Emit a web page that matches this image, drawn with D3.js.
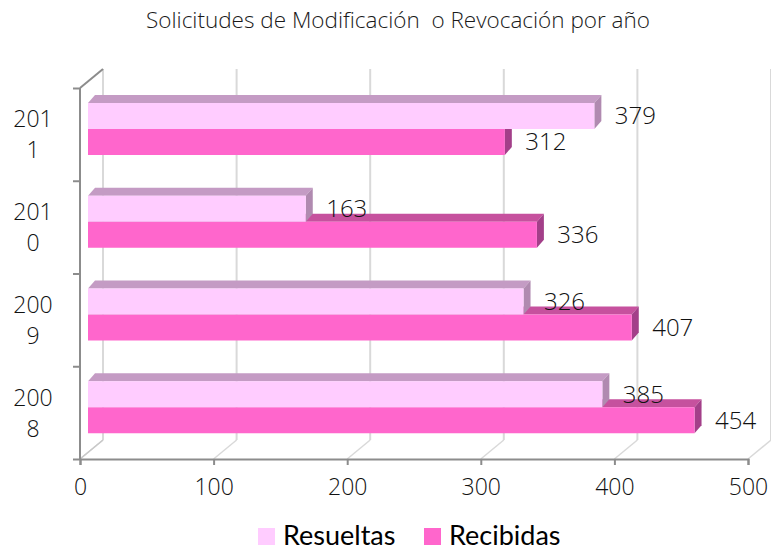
<!DOCTYPE html>
<html><head><meta charset="utf-8">
<script src="https://cdn.jsdelivr.net/npm/d3@7/dist/d3.min.js"></script>
<style>body{margin:0;background:#fff}svg{display:block}text{white-space:pre}</style>
</head><body>
<svg id="c" width="771" height="550"></svg>
<script>
const title = "Solicitudes de Modificación  o Revocación por año";
const years = ["2011", "2010", "2009", "2008"];
const seriesNames = ["Resueltas", "Recibidas"];
const resueltas = [379, 163, 326, 385];
const recibidas = [312, 336, 407, 454];
const xTicks = [0, 100, 200, 300, 400, 500];
const colors = {Resueltas: {front: "#FFCCFF", top: "#C49BC4", side: "#B08AB0"},
                Recibidas: {front: "#FF66CC", top: "#C6519E", side: "#A33F89"}};

const svg = d3.select("#c");
const wallDX = 23, wallDY = -19;
const barDX = 7, barDY = -8, barShift = 8;
const FONT = "Open Sans";
const x = d3.scaleLinear().domain([0, 500]).range([80, 748]);
const y = d3.scaleBand().domain(years).range([88, 459]);
const ys = d3.scaleBand().domain(seriesNames).range([15, 67]);
const floorY = y.range()[1], topY = y.range()[0];

// title
svg.append("text").attr("x", 398).attr("y", 28).attr("text-anchor", "middle")
  .attr("font-family", FONT).attr("font-weight", 300).attr("font-size", 22.5).attr("fill", "#1a1a1a").text(title);

const grid = svg.append("g");
xTicks.forEach(t => {
  const xf = x(t);
  grid.append("line").attr("x1", xf + wallDX).attr("x2", xf + wallDX)
    .attr("y1", topY + wallDY).attr("y2", floorY + wallDY)
    .attr("stroke", "#D9D9D9").attr("stroke-width", 2);
  grid.append("line").attr("x1", xf).attr("y1", floorY)
    .attr("x2", xf + wallDX).attr("y2", floorY + wallDY)
    .attr("stroke", "#D9D9D9").attr("stroke-width", 1.5);
});
grid.append("line").attr("x1", x(0)).attr("y1", topY).attr("x2", x(0) + wallDX).attr("y2", topY + wallDY)
  .attr("stroke", "#8C8C8C").attr("stroke-width", 2);
grid.append("line").attr("x1", x(0)).attr("y1", floorY).attr("x2", x(0) + wallDX).attr("y2", floorY + wallDY)
  .attr("stroke", "#C8C8C8").attr("stroke-width", 1.5);

// bars
const rows = years.map((yr, i) => ({year: yr, Resueltas: resueltas[i], Recibidas: recibidas[i]}));
const barsG = svg.append("g");
rows.forEach(r => {
  ["Recibidas", "Resueltas"].forEach(s => {
    const v = r[s];
    const x0 = x(0) + barShift, x1 = x(v) + barShift;
    const y0 = y(r.year) + ys(s), y1 = y0 + ys.bandwidth();
    const c = colors[s];
    barsG.append("polygon")
      .attr("points", [[x0, y0], [x0 + barDX, y0 + barDY], [x1 + barDX, y0 + barDY], [x1, y0]].join(" "))
      .attr("fill", c.top);
    barsG.append("polygon")
      .attr("points", [[x1, y0], [x1 + barDX, y0 + barDY], [x1 + barDX, y1 + barDY], [x1, y1]].join(" "))
      .attr("fill", c.side);
    barsG.append("rect").attr("x", x0).attr("y", y0).attr("width", x1 - x0).attr("height", y1 - y0)
      .attr("fill", c.front);
  });
});
// labels
rows.forEach(r => {
  seriesNames.forEach(s => {
    const v = r[s];
    const yc = y(r.year) + ys(s) + ys.bandwidth() / 2;
    svg.append("text").attr("x", x(v) + barShift + 41).attr("y", yc).attr("dy", "0.35em")
      .attr("text-anchor", "middle").attr("font-family", FONT).attr("font-weight", 300).attr("font-size", 24)
      .attr("fill", "#111").text(v);
  });
});

// axes
const xAxis = d3.axisBottom(x).tickValues(xTicks).tickSize(6).tickPadding(14);
const gx = svg.append("g").attr("transform", `translate(0,${floorY})`).call(xAxis);
gx.select(".domain").attr("stroke", "#8C8C8C").attr("stroke-width", 2);
gx.selectAll(".tick line").attr("stroke", "#8C8C8C").attr("stroke-width", 2);
gx.selectAll(".tick text").attr("font-family", FONT).attr("font-weight", 300).attr("font-size", 23).attr("fill", "#111");

const yEdge = d3.scaleLinear().domain([0, years.length]).range([topY, floorY]);
const yAxis = d3.axisLeft(yEdge).ticks(years.length).tickFormat("").tickSize(7);
const gy = svg.append("g").attr("transform", `translate(${x(0)},0)`).call(yAxis);
gy.select(".domain").attr("stroke", "#8C8C8C").attr("stroke-width", 2).attr("d", `M0,${topY}V${floorY}`);
gy.selectAll(".tick line").attr("stroke", "#8C8C8C").attr("stroke-width", 2);

// year labels (wrapped)
years.forEach(yr => {
  const cy = y(yr) + y.bandwidth() / 2;
  const t = svg.append("text").attr("text-anchor", "middle").attr("font-family", FONT).attr("font-weight", 300)
    .attr("font-size", 23).attr("fill", "#111");
  t.append("tspan").attr("x", 33).attr("y", cy - 7).text(yr.slice(0, 3));
  t.append("tspan").attr("x", 33).attr("y", cy + 24).text(yr.slice(3));
});

// legend
const legend = svg.append("g");
const legX = [258, 424];
seriesNames.forEach((s, i) => {
  legend.append("rect").attr("x", legX[i]).attr("y", 528).attr("width", 17).attr("height", 17)
    .attr("fill", colors[s].front);
  legend.append("text").attr("x", legX[i] + 25).attr("y", 545).attr("font-family", "Lato")
    .attr("font-size", 27).attr("fill", "#000").text(s);
});
</script>
</body></html>
